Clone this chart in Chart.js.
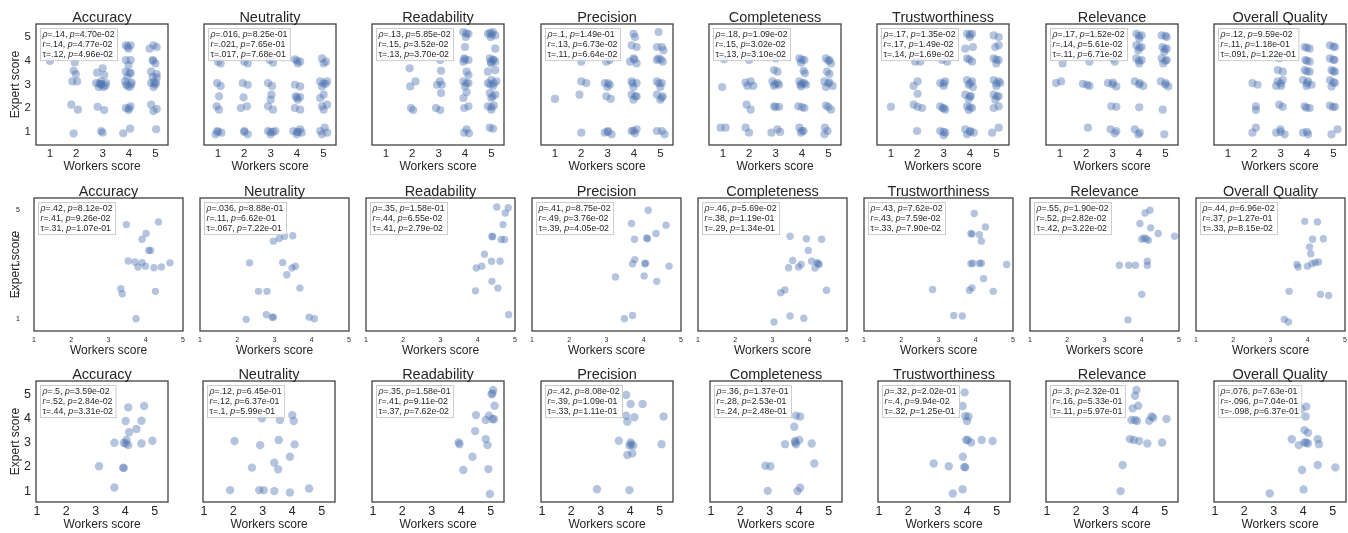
<!DOCTYPE html>
<html><head><meta charset="utf-8">
<script src="https://cdn.jsdelivr.net/npm/chart.js@4.4.1/dist/chart.umd.min.js"></script>
<style>
html,body{margin:0;padding:0;background:#fff;width:1348px;height:533px;overflow:hidden;position:relative}
canvas{position:absolute}
</style>
</head><body>
<script>
// ---------------- DATA ----------------
const titles = ['Accuracy','Neutrality','Readability','Precision','Completeness','Trustworthiness','Relevance','Overall Quality'];
const xTickValues = [1,2,3,4,5];
const xTickLabels = ['1','2','3','4','5'];
const yTickValues = [1,2,3,4,5];
const yTickLabels = ['1','2','3','4','5'];
const xAxisTitle = 'Workers score';
const yAxisTitle = 'Expert score';

// Row 1: [workers score, expert score] (jittered)
const r1Accuracy = [[1.0,3.99],[1.94,3.93],[1.9,3.58],[1.98,3.44],[1.85,3.13],[2.03,3.13],[1.81,2.15],[2.06,1.94],[1.9,0.93],
 [2.88,4.24],[3.0,3.68],[2.79,3.5],[3.06,3.4],[2.75,3.06],[2.94,3.13],[3.13,3.06],[2.85,2.89],[3.03,2.89],[2.94,2.99],[2.95,3.02],[3.1,2.95],[2.88,3.04],[2.81,2.06],[3.06,1.92],[2.94,1.04],[3.0,0.97],
 [3.88,4.65],[4.06,4.65],[3.98,4.51],[3.95,4.6],[3.88,4.03],[4.06,4.03],[3.98,3.82],[3.88,3.54],[4.06,3.47],[4.02,3.5],[3.94,3.31],[3.85,3.13],[4.1,3.08],[3.94,2.94],[4.03,2.89],[3.9,3.0],[4.08,3.0],[3.88,2.01],[4.06,2.08],[3.98,1.92],[4.0,2.0],[3.78,0.94],[4.04,1.14],
 [4.93,4.65],[5.05,4.58],[4.78,4.51],[4.9,4.03],[5.0,3.89],[4.92,4.0],[4.84,3.54],[5.05,3.44],[4.9,3.31],[5.05,3.3],[4.84,3.06],[5.03,3.06],[4.93,2.89],[4.98,3.0],[4.95,3.1],[4.84,2.15],[5.05,1.97],[4.93,1.88],[5.03,1.11]];
const r1Neutrality = [[1.0,3.96],[1.1,3.89],[0.97,3.06],[1.1,2.94],[1.04,2.5],[0.95,2.08],[1.04,1.94],[0.97,1.04],[1.13,0.97],[0.91,0.9],[1.0,1.0],
 [2.0,3.96],[2.13,3.89],[1.94,3.06],[2.13,2.99],[1.97,2.46],[1.87,2.01],[2.1,2.08],[2.0,1.04],[2.13,0.9],[2.0,1.0],
 [2.96,4.03],[3.09,3.92],[2.9,3.06],[3.05,2.94],[3.03,2.57],[3.0,2.36],[2.9,2.08],[3.09,1.94],[2.9,1.04],[3.09,1.0],[3.0,0.9],[3.18,1.04],[3.0,1.0],
 [3.92,4.06],[4.12,3.96],[4.03,3.89],[4.0,4.0],[3.92,2.99],[4.12,2.92],[3.95,2.5],[4.12,2.47],[4.03,2.36],[4.0,2.45],[3.92,2.01],[4.12,1.94],[3.86,1.04],[4.05,1.0],[4.18,0.97],[3.99,0.9],[4.12,1.11],[4.0,1.0],
 [4.95,4.1],[5.1,3.96],[5.01,3.89],[4.88,3.13],[5.14,3.13],[4.95,2.92],[5.08,3.03],[5.0,3.05],[5.01,2.57],[4.88,2.43],[4.95,2.08],[5.14,2.15],[5.01,1.94],[4.88,1.04],[5.05,1.18],[5.14,0.97],[4.95,0.9]];
const r1Readability = [[1.92,4.2],[1.9,3.68],[2.12,3.13],[1.92,2.92],[1.95,2.01],[2.03,1.92],
 [3.06,4.03],[3.09,3.58],[3.05,3.13],[2.94,2.99],[3.12,2.99],[3.09,2.64],[2.9,2.01],[3.06,1.92],
 [3.94,5.21],[4.13,5.14],[4.03,5.0],[4.05,5.15],[4.0,4.58],[3.97,4.1],[4.13,4.03],[3.94,3.96],[4.0,4.05],[4.06,3.54],[4.13,3.4],[3.94,3.13],[4.13,3.06],[4.05,3.05],[4.0,2.92],[4.06,2.67],[3.94,2.43],[4.13,2.08],[3.97,2.01],[4.06,1.11],[3.97,0.97],[4.15,0.94],
 [4.87,5.14],[5.06,5.21],[5.15,5.07],[4.97,5.0],[5.02,5.1],[4.95,5.18],[5.15,4.51],[4.94,4.1],[5.06,4.03],[5.15,3.96],[5.0,3.89],[5.08,4.05],[4.98,3.95],[4.87,3.54],[5.15,3.61],[5.0,3.19],[5.19,3.13],[4.87,3.06],[5.06,2.94],[5.1,3.05],[4.95,3.0],[4.94,2.64],[5.15,2.57],[5.0,2.43],[5.05,2.5],[4.87,2.08],[5.1,2.11],[5.0,1.94],[5.0,2.05],[4.94,1.18],[5.06,1.14]];
const r1Precision = [[1.0,2.39],
 [2.0,3.96],[2.0,3.13],[2.19,3.06],[1.93,2.57],[2.0,0.97],
 [2.95,3.96],[3.08,4.03],[2.89,3.06],[3.08,2.99],[2.99,2.89],[3.02,3.05],[2.95,2.5],[3.12,2.39],[3.02,1.04],[2.89,0.97],[3.15,0.9],[3.0,1.0],
 [3.98,5.14],[4.04,5.0],[3.91,4.65],[4.1,4.58],[3.98,4.1],[3.85,3.96],[4.1,3.89],[4.02,4.05],[3.91,3.13],[4.1,3.06],[3.98,2.89],[3.95,3.05],[3.91,2.57],[4.1,2.5],[3.98,2.36],[4.05,2.5],[3.91,1.04],[4.1,1.11],[4.04,0.94],[3.98,1.05],
 [4.93,5.21],[4.87,4.58],[5.06,4.58],[5.12,4.44],[4.93,4.1],[5.09,3.96],[4.87,4.03],[5.02,4.05],[4.87,3.13],[5.06,3.06],[5.0,2.89],[4.95,3.05],[4.87,2.57],[5.09,2.5],[5.0,2.36],[5.05,2.45],[4.87,1.04],[5.06,1.04],[5.16,0.9]];
const r1Completeness = [[1.04,4.06],[0.97,2.89],[0.91,1.18],[1.1,1.18],
 [1.99,4.03],[1.86,3.08],[2.05,3.13],[2.15,2.94],[1.93,2.94],[1.9,2.15],[2.05,1.94],[1.86,1.18],[1.99,0.97],
 [3.0,4.1],[2.94,3.61],[3.07,3.54],[2.88,3.13],[3.07,3.06],[2.94,2.94],[3.13,2.99],[2.98,3.02],[2.94,2.08],[3.13,2.06],[3.0,2.05],[2.84,0.97],[3.07,1.11],[3.17,1.0],
 [3.9,4.1],[4.09,4.03],[3.96,3.92],[4.0,4.05],[4.06,3.58],[4.11,3.47],[3.9,3.13],[4.09,3.06],[3.96,2.92],[4.15,2.99],[4.02,3.05],[3.95,3.0],[3.86,2.08],[4.09,2.01],[4.0,2.05],[3.9,1.18],[4.06,1.04],[3.96,0.97],[4.0,1.05],
 [4.91,4.1],[5.04,4.03],[5.1,3.89],[5.0,4.0],[4.95,3.54],[5.04,3.44],[4.85,3.13],[5.04,3.08],[5.16,2.94],[4.91,2.89],[5.0,3.05],[4.91,2.11],[5.1,1.94],[5.0,2.05],[4.87,1.18],[4.97,1.04],[4.85,0.9]];
const r1Trustworthiness = [[1.0,2.06],
 [1.92,3.96],[2.11,3.96],[2.01,3.13],[1.86,2.94],[2.01,2.61],[1.86,2.15],[2.01,2.06],[2.18,2.01],[1.99,1.04],
 [2.94,4.03],[3.13,3.96],[2.87,3.06],[3.06,3.13],[3.0,2.94],[3.0,3.05],[2.87,2.08],[3.06,1.94],[2.97,2.01],[3.0,2.0],[2.87,1.04],[3.06,0.97],[3.0,0.86],[3.0,1.0],
 [3.89,5.14],[4.08,5.14],[3.99,5.0],[4.0,5.1],[3.82,4.51],[4.11,4.58],[3.89,4.1],[4.08,3.96],[3.98,4.05],[3.89,3.19],[4.08,3.13],[3.95,2.99],[4.11,2.89],[4.0,3.05],[3.82,2.57],[4.01,2.5],[3.95,2.39],[4.02,2.5],[3.89,2.08],[4.08,2.01],[3.95,1.92],[4.0,2.05],[3.82,1.11],[4.01,1.04],[4.14,0.97],[3.89,0.9],[4.0,1.0],
 [4.9,5.07],[5.09,5.0],[4.96,4.58],[5.09,4.65],[4.9,4.1],[5.09,4.03],[5.0,3.89],[5.0,4.05],[4.9,3.19],[5.09,3.13],[5.0,2.94],[5.15,3.06],[5.0,3.05],[4.9,2.57],[5.09,2.5],[4.96,2.36],[5.02,2.5],[4.9,2.01],[5.09,2.08],[4.84,0.97],[5.09,1.18]];
const r1Relevance = [[1.1,3.89],[0.85,3.06],[1.04,3.13],
 [2.12,3.96],[1.87,3.03],[2.03,2.99],[2.12,2.94],[2.06,1.18],
 [3.01,4.1],[3.08,3.96],[2.82,3.06],[3.01,3.08],[3.14,2.92],[3.0,3.0],[2.95,2.08],[3.14,2.06],[2.92,1.11],[3.08,0.94],[3.14,1.04],
 [3.9,5.14],[4.1,5.07],[4.01,4.93],[4.0,5.05],[3.9,4.65],[4.1,4.58],[3.97,4.44],[4.02,4.55],[3.9,4.1],[4.1,4.03],[4.01,3.89],[4.0,4.0],[3.84,3.13],[4.03,3.06],[4.16,2.94],[4.0,3.0],[4.01,2.04],[3.84,1.11],[4.03,0.97],[3.97,0.9],
 [4.86,5.07],[5.05,5.0],[5.0,5.05],[4.89,4.58],[5.05,4.51],[4.96,4.38],[4.98,4.5],[4.86,4.1],[5.05,4.03],[4.92,3.89],[5.0,4.0],[4.83,3.13],[5.01,3.06],[5.11,2.92],[5.0,3.0],[4.9,1.94],[4.96,0.9]];
const r1Overall = [[1.93,3.06],[2.12,2.99],[2.06,2.08],[2.06,1.92],[1.93,0.97],[2.06,1.18],
 [2.95,4.1],[2.89,3.61],[3.08,3.54],[2.89,3.13],[3.08,3.19],[3.02,2.94],[2.83,2.94],[3.0,3.05],[2.95,2.15],[3.08,2.06],[2.83,0.97],[2.99,1.11],[3.15,0.9],[3.0,1.0],
 [3.91,4.58],[4.1,4.51],[4.0,4.55],[3.94,4.03],[4.1,3.96],[4.0,4.0],[3.91,3.61],[4.1,3.54],[4.0,3.55],[3.85,3.19],[4.04,3.13],[3.98,2.94],[4.17,2.99],[4.0,3.05],[3.91,2.08],[4.1,2.01],[3.98,2.02],[3.85,0.97],[4.04,0.9],[4.0,1.0],
 [4.87,4.65],[5.06,4.58],[5.0,4.6],[4.87,4.1],[5.04,4.03],[5.0,4.05],[4.93,3.61],[5.06,3.54],[5.0,3.55],[4.87,3.19],[5.06,3.06],[4.93,2.92],[5.0,3.1],[4.87,2.11],[5.06,2.06],[4.98,2.05],[4.93,0.9],[5.16,1.11]];

// Row 2
const r2Accuracy = [[3.48,4.47],[4.34,4.57],[4.01,4.14],[3.9,3.93],[4.13,3.52],[4.08,3.52],[3.53,3.13],[3.71,3.09],[3.9,3.07],[3.79,2.91],[3.99,2.94],[4.22,2.88],[4.42,2.91],[4.65,3.06],[3.33,2.11],[3.37,1.92],[4.26,2.01],[3.74,1.0]];
const r2Neutrality = [[2.97,3.86],[3.13,3.96],[3.27,4.04],[3.49,4.06],[2.33,3.06],[3.22,3.07],[3.47,2.87],[3.56,2.94],[3.33,2.62],[2.57,2.01],[2.8,2.01],[3.68,2.13],[2.78,1.15],[2.94,1.06],[2.97,1.06],[2.24,0.98],[3.93,1.06],[4.07,1.0]];
const r2Readability = [[4.51,5.12],[4.82,5.09],[4.74,4.9],[4.68,4.47],[4.38,4.04],[4.4,4.02],[4.63,3.92],[4.72,3.92],[4.18,3.38],[4.37,3.12],[4.6,3.12],[4.11,2.94],[3.96,2.87],[4.38,2.38],[4.54,2.13],[3.94,2.03],[4.83,1.15]];
const r2Precision = [[4.12,5.0],[3.67,4.51],[4.6,4.45],[4.33,4.14],[3.75,3.93],[4.08,3.98],[4.1,3.95],[3.76,3.18],[3.7,3.03],[4.03,3.03],[4.05,3.05],[4.68,2.94],[3.24,2.54],[4.01,2.58],[4.35,2.38],[3.48,1.0],[3.7,1.12]];
const r2Completeness = [[3.47,4.04],[3.91,3.95],[4.32,3.93],[3.96,3.52],[3.54,3.15],[3.77,3.0],[3.7,2.91],[3.43,2.88],[4.05,3.12],[4.2,3.07],[4.25,3.0],[4.23,3.03],[4.14,2.87],[3.33,2.06],[3.22,1.96],[4.45,2.05],[3.47,1.1],[3.84,1.02],[3.04,0.88]];
const r2Trustworthiness = [[3.96,4.88],[4.26,4.38],[3.87,4.14],[3.9,4.12],[4.1,4.1],[4.15,3.86],[3.87,3.03],[3.92,3.05],[4.1,3.04],[4.15,3.05],[4.83,3.0],[4.21,2.48],[3.9,2.14],[3.83,2.05],[4.47,2.01],[2.84,2.08],[3.41,1.12],[3.64,1.1]];
const r2Relevance = [[4.22,5.0],[4.09,4.9],[3.95,4.51],[4.24,4.35],[4.44,4.14],[4.88,4.04],[4.0,3.93],[4.06,3.98],[4.12,3.95],[4.18,3.89],[3.4,2.97],[3.65,2.97],[3.83,2.97],[4.15,3.12],[4.15,2.97],[4.0,1.9],[3.63,0.96]];
const r2Overall = [[3.92,4.59],[4.26,4.57],[4.13,3.93],[4.42,3.95],[4.05,3.65],[4.08,3.4],[3.71,3.0],[3.74,2.91],[3.99,2.94],[4.11,3.03],[4.2,3.07],[4.29,3.09],[3.5,2.01],[4.34,1.9],[4.56,1.86],[3.37,0.98],[3.48,0.88]];

// Row 3
const r3Accuracy = [[4.1,4.46],[4.64,4.52],[4.01,3.9],[4.55,3.91],[4.38,3.57],[4.13,3.43],[4.04,3.11],[3.63,3.0],[3.95,3.0],[4.02,2.97],[4.1,2.9],[4.55,2.97],[4.92,3.08],[3.11,2.03],[3.93,1.97],[3.95,1.95],[3.63,1.15]];
const r3Neutrality = [[2.97,4.01],[3.58,3.94],[4.0,4.14],[4.05,3.9],[2.04,3.07],[2.91,2.9],[3.54,3.11],[4.08,2.93],[3.92,2.42],[3.39,2.17],[3.52,1.9],[2.63,1.97],[1.89,1.04],[2.88,1.04],[3.03,1.04],[3.39,1.0],[3.92,0.94],[4.57,1.11]];
const r3Readability = [[5.08,5.18],[5.03,5.0],[5.06,5.04],[5.13,4.53],[4.5,4.14],[4.94,4.12],[4.83,3.94],[5.06,3.98],[5.11,3.97],[4.47,3.48],[3.91,3.01],[3.94,2.94],[4.83,3.15],[4.89,2.9],[4.38,2.42],[4.07,1.87],[4.92,1.91],[4.97,0.88]];
const r3Precision = [[3.86,4.97],[4.01,4.6],[4.42,4.6],[3.86,4.12],[4.14,4.05],[3.9,3.87],[5.13,4.08],[3.61,3.08],[4.01,3.01],[4.03,2.93],[3.97,2.88],[4.1,2.88],[5.06,2.94],[3.9,2.49],[4.07,2.56],[2.87,1.08],[3.97,1.04]];
const r3Completeness = [[3.89,4.12],[4.03,4.08],[3.83,3.66],[3.52,2.94],[3.86,3.01],[3.89,2.93],[3.86,3.07],[4.0,3.11],[4.42,2.97],[2.85,2.05],[3.02,2.03],[4.51,2.14],[2.93,1.01],[3.94,1.0],[4.03,1.14]];
const r3Trustworthiness = [[3.91,5.08],[3.84,4.52],[3.93,4.1],[4.04,4.08],[3.99,3.9],[3.96,3.11],[4.02,3.11],[4.13,3.01],[4.49,3.11],[4.86,3.07],[3.85,2.42],[3.9,2.0],[3.93,1.98],[2.86,2.14],[3.37,2.03],[3.84,1.08],[3.51,0.9]];
const r3Relevance = [[4.04,5.18],[3.99,4.94],[4.1,4.53],[3.91,4.42],[3.87,3.94],[3.99,3.94],[4.06,3.9],[4.55,4.08],[4.61,4.03],[4.47,3.91],[5.06,3.98],[3.82,3.15],[3.95,3.11],[4.13,3.07],[4.41,2.97],[4.91,3.01],[3.57,2.08],[3.5,1.0]];
const r3Overall = [[4.1,4.49],[3.93,4.39],[4.08,4.08],[4.04,3.52],[4.16,3.41],[3.61,3.14],[3.85,2.9],[4.04,3.01],[4.1,3.01],[4.16,2.97],[4.49,3.15],[4.53,2.94],[4.49,2.08],[5.09,1.98],[3.96,1.87],[4.01,1.07],[2.86,0.9]];

// Correlation annotations: [rho, p, r, p, tau, p]
const statsRow1 = [
 ['.14','4.70e-02','.14','4.77e-02','.12','4.96e-02'],
 ['.016','8.25e-01','.021','7.65e-01','.017','7.68e-01'],
 ['.13','5.85e-02','.15','3.52e-02','.13','3.70e-02'],
 ['.1','1.49e-01','.13','6.73e-02','.11','6.64e-02'],
 ['.18','1.09e-02','.15','3.02e-02','.13','3.10e-02'],
 ['.17','1.35e-02','.17','1.49e-02','.14','1.69e-02'],
 ['.17','1.52e-02','.14','5.61e-02','.11','6.71e-02'],
 ['.12','9.59e-02','.11','1.18e-01','.091','1.22e-01']];
const statsRow2 = [
 ['.42','8.12e-02','.41','9.26e-02','.31','1.07e-01'],
 ['.036','8.88e-01','.11','6.62e-01','.067','7.22e-01'],
 ['.35','1.58e-01','.44','6.55e-02','.41','2.79e-02'],
 ['.41','8.75e-02','.49','3.76e-02','.39','4.05e-02'],
 ['.46','5.69e-02','.38','1.19e-01','.29','1.34e-01'],
 ['.43','7.62e-02','.43','7.59e-02','.33','7.90e-02'],
 ['.55','1.90e-02','.52','2.82e-02','.42','3.22e-02'],
 ['.44','6.96e-02','.37','1.27e-01','.33','8.15e-02']];
const statsRow3 = [
 ['.5','3.59e-02','.52','2.84e-02','.44','3.31e-02'],
 ['.12','6.45e-01','.12','6.37e-01','.1','5.99e-01'],
 ['.35','1.58e-01','.41','9.11e-02','.37','7.62e-02'],
 ['.42','8.08e-02','.39','1.09e-01','.33','1.11e-01'],
 ['.36','1.37e-01','.28','2.53e-01','.24','2.48e-01'],
 ['.32','2.02e-01','.4','9.94e-02','.32','1.25e-01'],
 ['.3','2.32e-01','.16','5.33e-01','.11','5.97e-01'],
 ['.076','7.63e-01','-.096','7.04e-01','-.098','6.37e-01']];

const rowData = [
 [r1Accuracy,r1Neutrality,r1Readability,r1Precision,r1Completeness,r1Trustworthiness,r1Relevance,r1Overall],
 [r2Accuracy,r2Neutrality,r2Readability,r2Precision,r2Completeness,r2Trustworthiness,r2Relevance,r2Overall],
 [r3Accuracy,r3Neutrality,r3Readability,r3Precision,r3Completeness,r3Trustworthiness,r3Relevance,r3Overall]];
const rowStats = [statsRow1, statsRow2, statsRow3];

// ---------------- LAYOUT / STYLE ----------------
const FONT = '"Liberation Sans", Arial, Helvetica, sans-serif';
const TEXT = '#262626';
const POINT = 'rgba(76,114,176,0.42)';
const PADL = 40, PADT = 26, PADR = 8, XAXH = 30;
const rowLayout = [
 {top:24, bottom:145, lefts:[36,204,372,541,709,877,1046,1214], width:132, x:[0.47,5.48], y:[0.45,5.55], tick:11.5, xTickPad:2.4, yTickPad:5, yTitlePad:12.8, xTitlePad:1.1, radius:4.1},
 {top:198, bottom:331, lefts:[34,200,366,532,698,864,1030,1196], width:149, x:[1,5], y:[0.55,5.45], tick:7, xTickPad:4.8, yTickPad:14, yTitlePad:14.8, xTitlePad:3.1, radius:3.7},
 {top:381, bottom:502, lefts:[36,203,372,541,710,878,1046,1214], width:132, x:[0.97,5.45], y:[0.55,5.55], tick:12.5, xTickPad:2.2, yTickPad:5, yTitlePad:12.8, xTitlePad:0, radius:4.2}];

Chart.defaults.font.family = FONT;

function makeDecor(title, st) {
  return {
    id: 'decor',
    afterDatasetsDraw(chart) {
      const {ctx, chartArea: a} = chart;
      ctx.save();
      const fs = 8.8, lh = 9.7;
      const fN = fs + 'px ' + FONT, fI = 'italic ' + fs + 'px ' + FONT;
      const lines = [
        [['ρ', true], ['=' + st[0] + ', ', false], ['p', true], ['=' + st[1], false]],
        [['r', true], ['=' + st[2] + ', ', false], ['p', true], ['=' + st[3], false]],
        [['τ', false], ['=' + st[4] + ', ', false], ['p', true], ['=' + st[5], false]]];
      let maxW = 0;
      lines.forEach(l => {
        let w = 0;
        l.forEach(([t, it]) => { ctx.font = it ? fI : fN; w += ctx.measureText(t).width; });
        maxW = Math.max(maxW, w);
      });
      const bx = a.left + 4, by = a.top + 4, bw = maxW + 5, bh = lh * 3 + 3;
      ctx.fillStyle = 'rgba(255,255,255,0.8)';
      ctx.fillRect(bx, by, bw, bh);
      ctx.strokeStyle = '#cccccc'; ctx.lineWidth = 1;
      ctx.strokeRect(bx + 0.5, by + 0.5, bw, bh);
      ctx.fillStyle = TEXT; ctx.textBaseline = 'middle'; ctx.textAlign = 'left';
      lines.forEach((l, i) => {
        let x = bx + 2.5; const y = by + 2 + lh * (i + 0.5);
        l.forEach(([t, it]) => { ctx.font = it ? fI : fN; ctx.fillText(t, x, y); x += ctx.measureText(t).width; });
      });
      ctx.strokeStyle = '#3a3a3a'; ctx.lineWidth = 1.25;
      ctx.strokeRect(a.left, a.top, a.right - a.left, a.bottom - a.top);
      ctx.fillStyle = TEXT; ctx.font = '14.5px ' + FONT; ctx.textAlign = 'center'; ctx.textBaseline = 'alphabetic';
      ctx.fillText(title, (a.left + a.right) / 2, a.top - 2.5);
      ctx.restore();
    }
  };
}

rowLayout.forEach((R, ri) => {
  const H = R.bottom - R.top;
  R.lefts.forEach((L, ci) => {
    const cv = document.createElement('canvas');
    const w = PADL + R.width + PADR, h = PADT + H + XAXH;
    cv.width = w; cv.height = h;
    cv.style.left = (L - PADL) + 'px'; cv.style.top = (R.top - PADT) + 'px';
    cv.style.width = w + 'px'; cv.style.height = h + 'px';
    document.body.appendChild(cv);
    const pts = rowData[ri][ci].map(([x, y]) => ({x, y}));
    new Chart(cv, {
      type: 'scatter',
      data: {datasets: [{data: pts, backgroundColor: POINT, borderWidth: 0, pointRadius: R.radius, pointHoverRadius: R.radius}]},
      options: {
        responsive: false, animation: false, devicePixelRatio: 1,
        layout: {padding: {left: 0, top: PADT, right: PADR, bottom: 0}},
        plugins: {legend: {display: false}, tooltip: {enabled: false}, title: {display: false}},
        scales: {
          x: {
            type: 'linear', min: R.x[0], max: R.x[1],
            afterBuildTicks: s => { s.ticks = xTickValues.map(v => ({value: v})); },
            afterFit: s => { s.height = XAXH; },
            grid: {display: false, drawTicks: false}, border: {display: false},
            ticks: {autoSkip: false, maxRotation: 0, font: {size: R.tick}, color: TEXT, padding: R.xTickPad,
                    callback: (v, i) => xTickLabels[i]},
            title: {display: true, text: xAxisTitle, font: {size: 12}, color: TEXT, padding: {top: 0, bottom: R.xTitlePad}}
          },
          y: {
            type: 'linear', display: ci === 0, min: R.y[0], max: R.y[1],
            afterBuildTicks: s => { s.ticks = yTickValues.map(v => ({value: v})); },
            afterFit: s => { s.width = PADL; },
            grid: {display: false, drawTicks: false}, border: {display: false},
            ticks: {autoSkip: false, font: {size: R.tick}, color: TEXT, padding: R.yTickPad,
                    callback: (v, i) => yTickLabels[i]},
            title: {display: true, text: yAxisTitle, font: {size: 12}, color: TEXT, padding: {top: R.yTitlePad, bottom: 0}}
          }
        }
      },
      plugins: [makeDecor(titles[ci], rowStats[ri][ci])]
    });
  });
});
</script>
</body></html>
